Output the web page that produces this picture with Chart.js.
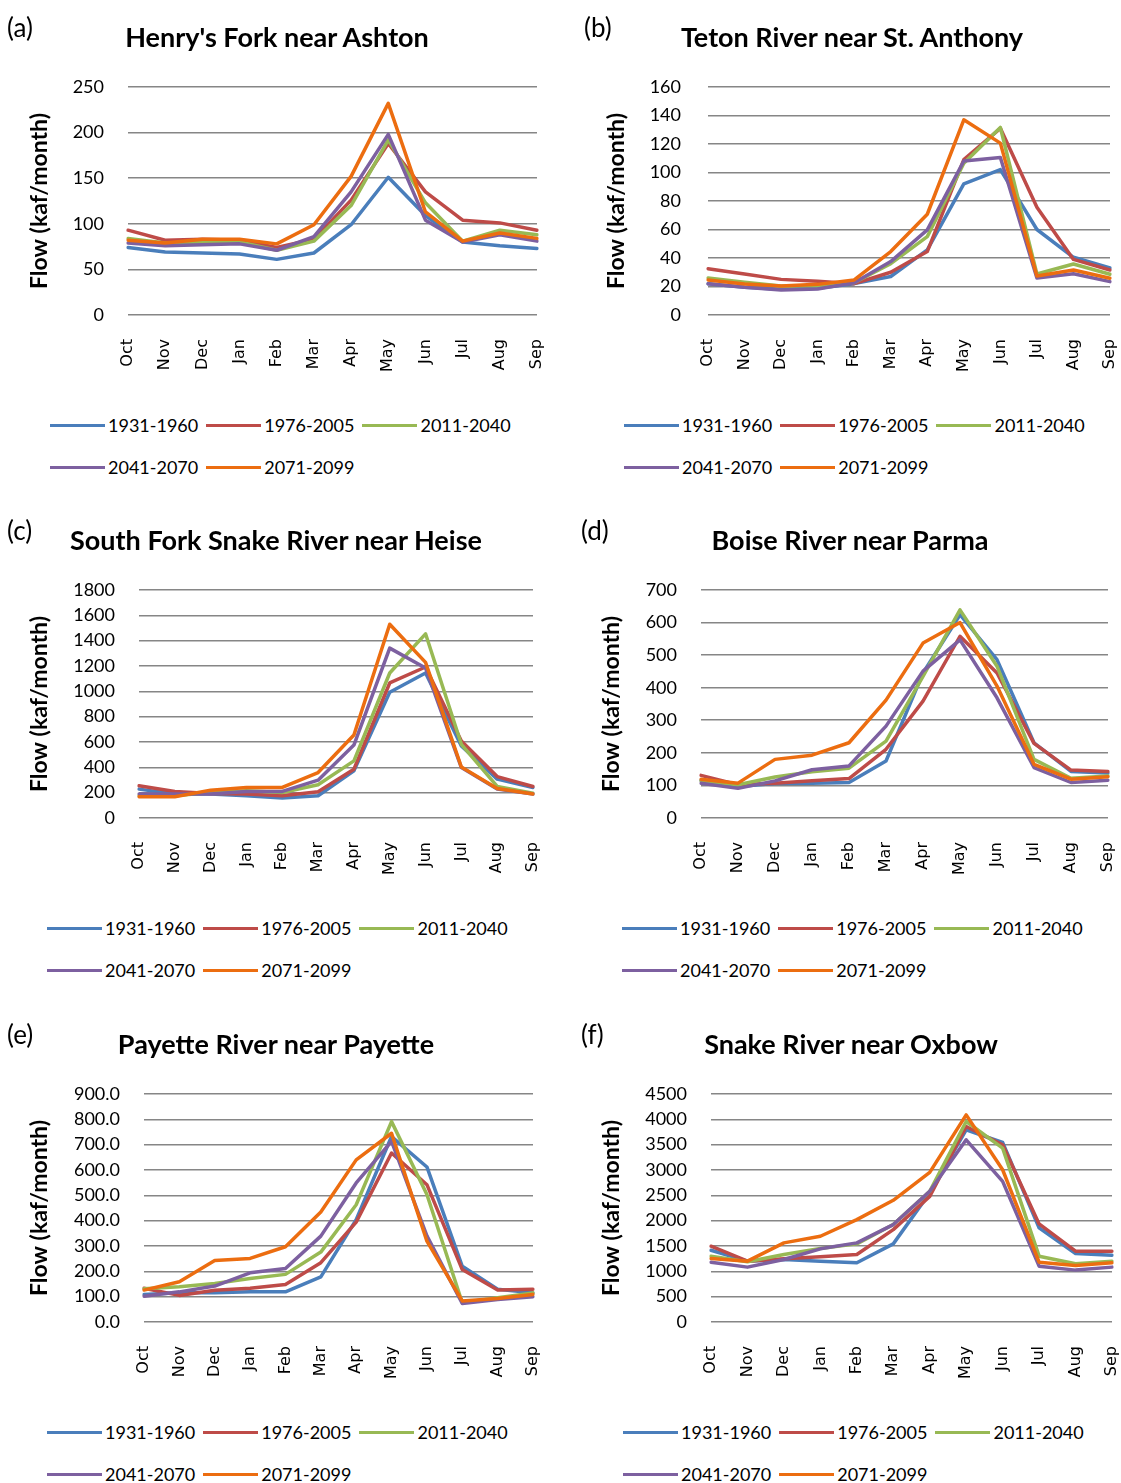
<!DOCTYPE html>
<html><head><meta charset="utf-8">
<script src="https://cdn.jsdelivr.net/npm/chart.js@4.4.1/dist/chart.umd.min.js"></script>
<style>
html,body{margin:0;padding:0;background:#fff;}
body{width:1121px;height:1483px;position:relative;overflow:hidden;font-family:Lato,"Open Sans",sans-serif;color:#000;}
.panel{position:absolute;}
.panel canvas{position:absolute;left:0;top:0;}
.plabel{position:absolute;font-size:26px;line-height:30px;white-space:nowrap;}
.ptitle{position:absolute;font-size:27px;font-weight:bold;line-height:32px;white-space:nowrap;transform:translateX(-50%);}
.legend{position:absolute;font-size:18px;}
.lrow{display:flex;align-items:center;height:42px;white-space:nowrap;}
.lline{display:inline-block;width:55px;height:3px;margin-right:3px;}
.ltext{margin-right:8px;}
</style>
</head><body>
<script>
// ---------- DATA ----------
const months = ['Oct','Nov','Dec','Jan','Feb','Mar','Apr','May','Jun','Jul','Aug','Sep'];
const periods = ['1931-1960','1976-2005','2011-2040','2041-2070','2071-2099'];
const panelLetters = ['(a)','(b)','(c)','(d)','(e)','(f)'];
const panelTitles = ["Henry's Fork near Ashton","Teton River near St. Anthony","South Fork Snake River near Heise","Boise River near Parma","Payette River near Payette","Snake River near Oxbow"];
const yAxisTitle = 'Flow (kaf/month)';
const yMaxes = [250,160,1800,700,900,4500];
const ySteps = [50,20,200,100,100,500];
const yDecimals = [0,0,0,0,1,0];

// (a) Henry's Fork near Ashton
const ashton1931 = [74,69,68,67,61,68,99,151,109,80,76,73];
const ashton1976 = [93,82,83,82,74,83,126,188,135,104,101,93];
const ashton2011 = [84,79,80,80,71,81,120,192,123,81,93,88];
const ashton2041 = [79,76,77,78,71,86,135,198,104,80,88,81];
const ashton2071 = [82,79,83,83,78,99,152,232,113,81,90,84];

// (b) Teton River near St. Anthony
const teton1931 = [22,19.4,18,18.7,22,27,45.7,92,102,60,40.5,33];
const teton1976 = [32.5,28.8,25,23.6,22,30,44.5,109,131,75.6,39,31.6];
const teton2011 = [26,23,20.4,20.6,22.7,36,55,106.5,131.6,28.8,35.8,28.6];
const teton2041 = [22,19.4,17.6,18.3,22.7,37.5,59.7,108,110.5,26,29,23.4];
const teton2071 = [24.6,21.8,20.4,21.5,24.6,44.5,70.7,137,120.6,27.4,31.6,25.8];

// (c) South Fork Snake River near Heise
const heise1931 = [228,189,189,176,157,176,372,993,1145,568,307,241];
const heise1976 = [254,210,194,189,176,207,385,1066,1192,608,327,249];
const heise2011 = [176,176,202,215,202,262,451,1145,1454,582,249,196];
const heise2041 = [189,189,189,210,210,299,576,1341,1184,398,228,189];
const heise2071 = [168,168,220,241,241,359,655,1530,1229,403,233,189];

// (d) Boise River near Parma
const parma1931 = [116,97,106,107,109,175,445,624,486,231,143,138];
const parma1976 = [131,102,107,114,121,211,359,558,445,229,147,143];
const parma2011 = [114,102,126,142,153,236,435,639,466,180,122,129];
const parma2041 = [107,91,114,148,160,282,451,547,369,155,109,116];
const parma2071 = [119,107,180,193,231,362,537,600,405,165,119,127];

// (e) Payette River near Payette
const payette1931 = [109,115,115,119,119,178,404,732,612,220,129,115];
const payette1976 = [133,105,125,133,148,234,394,667,542,207,126,129];
const payette2011 = [131,139,152,172,188,276,463,791,503,76,96,115];
const payette2041 = [102,119,142,194,211,339,549,713,340,73,89,100];
const payette2071 = [126,159,243,251,297,434,640,745,319,83,93,109];

// (f) Snake River near Oxbow
const oxbow1931 = [1417,1201,1234,1201,1168,1542,2546,3793,3543,1857,1352,1319];
const oxbow1976 = [1496,1201,1247,1286,1332,1824,2480,3858,3497,1936,1398,1398];
const oxbow2011 = [1299,1188,1332,1450,1542,1923,2579,3957,3432,1299,1148,1201];
const oxbow2041 = [1181,1083,1234,1444,1562,1923,2579,3596,2776,1102,1024,1083];
const oxbow2071 = [1253,1201,1562,1693,2021,2402,2953,4088,3005,1181,1115,1168];

const panelSeries = [
  [ashton1931,ashton1976,ashton2011,ashton2041,ashton2071],
  [teton1931,teton1976,teton2011,teton2041,teton2071],
  [heise1931,heise1976,heise2011,heise2041,heise2071],
  [parma1931,parma1976,parma2011,parma2041,parma2071],
  [payette1931,payette1976,payette2011,payette2041,payette2071],
  [oxbow1931,oxbow1976,oxbow2011,oxbow2041,oxbow2071]
];

// ---------- STYLE / LAYOUT ----------
const seriesColors = ['#4A7EBB','#BE4B48','#98B954','#7D60A0','#EC6D10'];
const rowTops = [0,503,1007];
const colLefts = [0,560];
const canvasW = [560,561];
const canvasH = 400;
const plotLeft   = [128,708,139,701,144,711];
const plotRight  = [537,1110,533,1108,533,1112];
const yTitleX    = [40,617,40,612,40,612];
const tickRightX = [104,681,115,677,120,687];
const legendX    = [50,624,47,622,47,623];
const letterX    = [7,584,7,581,7,581];
const titleX     = [277,852,276,850,276,851];

for (let p = 0; p < 6; p++) {
  const row = Math.floor(p/2), col = p % 2;
  const left0 = colLefts[col], top0 = rowTops[row];
  const div = document.createElement('div');
  div.className = 'panel';
  div.style.left = left0 + 'px'; div.style.top = top0 + 'px';
  div.style.width = canvasW[col] + 'px'; div.style.height = '480px';
  document.body.appendChild(div);

  const cv = document.createElement('canvas');
  cv.width = canvasW[col]; cv.height = canvasH;
  cv.style.width = canvasW[col] + 'px'; cv.style.height = canvasH + 'px';
  div.appendChild(cv);

  const lab = document.createElement('div');
  lab.className = 'plabel'; lab.textContent = panelLetters[p];
  lab.style.left = (letterX[p] - left0) + 'px'; lab.style.top = '12px';
  div.appendChild(lab);

  const tt = document.createElement('div');
  tt.className = 'ptitle'; tt.textContent = panelTitles[p];
  tt.style.left = (titleX[p] - left0) + 'px'; tt.style.top = '21px';
  div.appendChild(tt);

  const lg = document.createElement('div');
  lg.className = 'legend';
  lg.style.left = (legendX[p] - left0) + 'px'; lg.style.top = '404px';
  let rowDiv = null;
  periods.forEach((name, i) => {
    if (i % 3 === 0) { rowDiv = document.createElement('div'); rowDiv.className = 'lrow'; lg.appendChild(rowDiv); }
    const ln = document.createElement('span'); ln.className = 'lline'; ln.style.background = seriesColors[i];
    const tx = document.createElement('span'); tx.className = 'ltext'; tx.textContent = name;
    rowDiv.appendChild(ln); rowDiv.appendChild(tx);
  });
  div.appendChild(lg);

  const padLeft = yTitleX[p] - left0 - 14;
  const yWidth = plotLeft[p] - left0 - padLeft;
  const padRight = canvasW[col] - (plotRight[p] - left0);
  const tickPad = plotLeft[p] - tickRightX[p];
  const dec = yDecimals[p];

  new Chart(cv, {
    type: 'line',
    data: {
      labels: months,
      datasets: panelSeries[p].map((vals, i) => ({
        label: periods[i], data: vals,
        borderColor: seriesColors[i], backgroundColor: seriesColors[i],
        borderWidth: 3.5, pointRadius: 0, tension: 0, fill: false, order: -i,
        borderCapStyle: 'round', borderJoinStyle: 'round'
      }))
    },
    options: {
      responsive: false, animation: false, events: [],
      layout: { padding: { left: padLeft, right: padRight, top: 87, bottom: 5 } },
      plugins: { legend: { display: false }, tooltip: { enabled: false }, title: { display: false } },
      scales: {
        x: {
          type: 'category', offset: false,
          grid: { display: false, drawTicks: false }, border: { display: false },
          ticks: { minRotation: 90, maxRotation: 90, autoSkip: false, padding: 24, color: '#000',
                   font: { family: 'DejaVu Sans', size: 16 } },
          afterFit: s => { s.height = 80; s.paddingLeft = 0; s.paddingRight = 0; }
        },
        y: {
          min: 0, max: yMaxes[p],
          grid: { color: '#868686', lineWidth: 1.6, drawTicks: false }, border: { display: false },
          ticks: { stepSize: ySteps[p], padding: tickPad, color: '#000',
                   font: { family: 'Lato', size: 18 }, callback: v => Number(v).toFixed(dec) },
          title: { display: true, text: yAxisTitle, color: '#000', padding: 0,
                   font: { family: 'Lato', size: 23, weight: 'bold' } },
          afterFit: s => { s.width = yWidth; s.paddingTop = 0; s.paddingBottom = 0; }
        }
      }
    }
  });
}
</script>
</body></html>
